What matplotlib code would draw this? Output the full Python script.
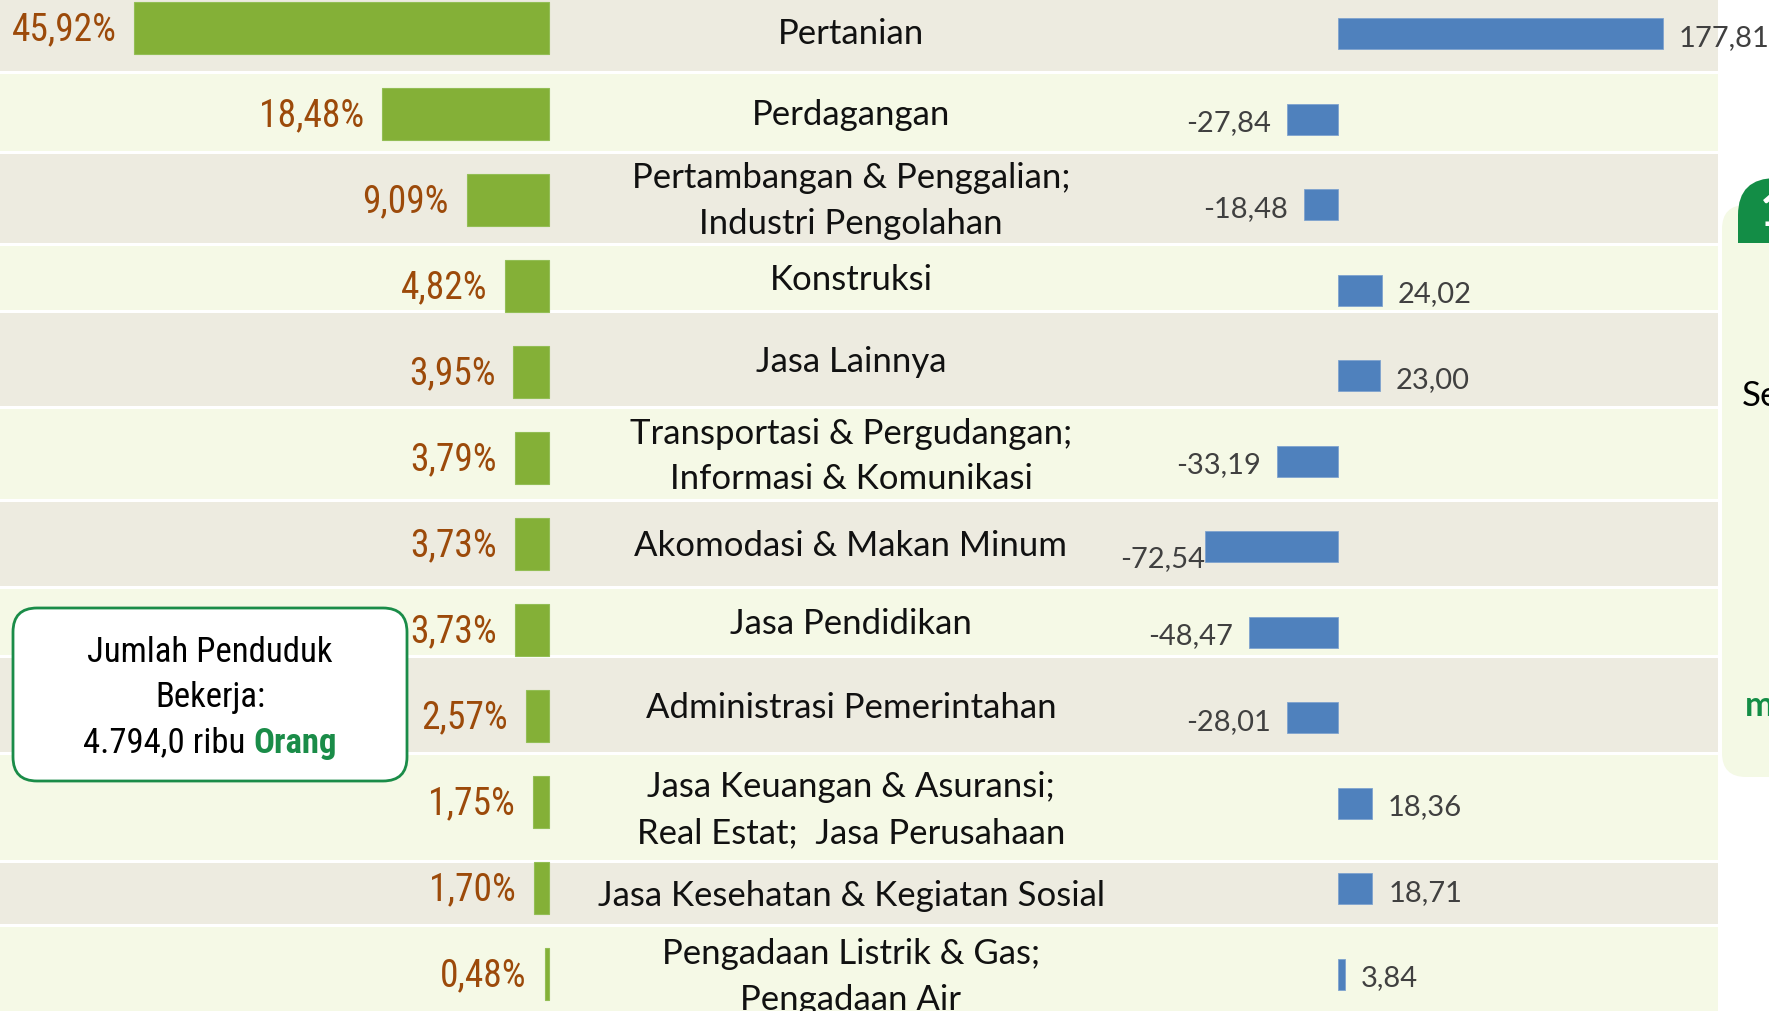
import matplotlib.pyplot as plt
from matplotlib import font_manager as fm
from matplotlib.patches import Rectangle, FancyBboxPatch, PathPatch
from matplotlib.path import Path

# Sektor lapangan usaha, persentase penduduk bekerja, dan perubahan (ribu orang)
sektor = [
    "Pertanian",
    "Perdagangan",
    "Pertambangan & Penggalian;\nIndustri Pengolahan",
    "Konstruksi",
    "Jasa Lainnya",
    "Transportasi & Pergudangan;\nInformasi & Komunikasi",
    "Akomodasi & Makan Minum",
    "Jasa Pendidikan",
    "Administrasi Pemerintahan",
    "Jasa Keuangan & Asuransi;\nReal Estat;  Jasa Perusahaan",
    "Jasa Kesehatan & Kegiatan Sosial",
    "Pengadaan Listrik & Gas;\nPengadaan Air",
]
persen = [45.92, 18.48, 9.09, 4.82, 3.95, 3.79, 3.73, 3.73, 2.57, 1.75, 1.70, 0.48]
perubahan = [177.81, -27.84, -18.48, 24.02, 23.00, -33.19, -72.54, -48.47,
             -28.01, 18.36, 18.71, 3.84]

W, H = 1769, 1011

# a narrow sans for the percentages, if one is installed
names = {f.name for f in fm.fontManager.ttflist}
narrow_kw = {"family": "Liberation Sans"}
for cand in ["Liberation Sans Narrow", "Arial Narrow", "Roboto Condensed",
             "Open Sans Condensed", "Noto Sans Condensed"]:
    if cand in names:
        narrow_kw = {"family": cand}
        break
else:
    for f in fm.fontManager.ttflist:
        if f.stretch in ("condensed", "semi-condensed") and f.style == "normal" \
                and f.weight in (400, "normal", "regular"):
            narrow_kw = {"family": f.name, "stretch": f.stretch}
            break
LABEL = "Lato"

HIJAU = "#84B037"
BIRU = "#4F81BD"
COKLAT = "#9C4A0A"
HIJAU_TUA = "#1A8C48"


def fmt(v, dec=2):
    return f"{v:.{dec}f}".replace(".", ",")


fig = plt.figure(figsize=(W / 100, H / 100), dpi=100)

# background table, pixel coordinates
bg = fig.add_axes([0, 0, 1, 1])
bg.set_xlim(0, W)
bg.set_ylim(H, 0)
bg.axis("off")

row_edges = [-9, 72, 152, 244, 311, 407, 500, 587, 656, 753, 861, 925, 1023]
for i in range(len(row_edges) - 1):
    top, bot = row_edges[i], row_edges[i + 1]
    col = "#EDEBE0" if i % 2 == 0 else "#F5F9E6"
    bg.add_patch(Rectangle((0, top + 1.5), 1718, bot - top - 3, fc=col, ec="none"))
    bg.text(851, (top + bot) / 2 + 3, sektor[i], ha="center", va="center",
            fontsize=25, family=LABEL, color="#111111", linespacing=1.53)

# green bars: share of employed population
axg = fig.add_axes([0, 0, 1, 1])
axg.patch.set_alpha(0)
px_per_pct = 9.03
axg.set_xlim(549 / px_per_pct, (549 - W) / px_per_pct)
axg.set_ylim((H - 28.2) / 85.95, -28.2 / 85.95)
axg.axis("off")
axg.barh(range(len(persen)), persen, height=0.605, color=HIJAU,
         edgecolor="#93BE55", linewidth=0.8)
for i, v in enumerate(persen):
    axg.annotate(fmt(v) + "%", xy=(v, i), xytext=(-18, -2), textcoords="offset pixels",
                 ha="right", va="center", fontsize=27, color=COKLAT, **narrow_kw)

# blue bars: change in employed population
axb = fig.add_axes([0, 0, 1, 1])
axb.patch.set_alpha(0)
px_per_unit = 1.828
axb.set_xlim(-1338 / px_per_unit, (W - 1338) / px_per_unit)
axb.set_ylim((H - 33.8) / 85.5, -33.8 / 85.5)
axb.axis("off")
axb.barh(range(len(perubahan)), perubahan, height=0.36, color=BIRU,
         edgecolor="#7FA3CF", linewidth=0.6)
nudge = {6: (0, -12)}
for i, v in enumerate(perubahan):
    dx, dy = nudge.get(i, (16, -4))
    if v < 0:
        dx = -dx
    axb.annotate(fmt(v), xy=(v, i), xytext=(dx, dy), textcoords="offset pixels",
                 ha="left" if v >= 0 else "right", va="center",
                 fontsize=21, family=LABEL, color="#404040")

# total employed box
bg.add_patch(FancyBboxPatch((13, 608), 394, 173,
                            boxstyle="round,pad=0,rounding_size=24",
                            fc="white", ec=HIJAU_TUA, lw=2, zorder=5))
box_kw = dict(ha="center", va="center", fontsize=25, color="black", zorder=6, **narrow_kw)
bg.text(210, 653, "Jumlah Penduduk", **box_kw)
bg.text(210, 698, "Bekerja:", **box_kw)
ta = bg.text(0, 743, "4.794,0 ribu", ha="left", va="center", fontsize=25,
             color="black", zorder=6, **narrow_kw)
tb = bg.text(0, 743, "Orang", ha="left", va="center", fontsize=25,
             color=HIJAU_TUA, fontweight="bold", zorder=6, **narrow_kw)
r = fig.canvas.get_renderer()
wa = ta.get_window_extent(r).width
wb = tb.get_window_extent(r).width
gap = 8
x0 = 210 - (wa + gap + wb) / 2
ta.set_x(x0)
tb.set_x(x0 + wa + gap)

# neighbouring panel at the right edge
bg.add_patch(FancyBboxPatch((1722, 205), 200, 572,
                            boxstyle="round,pad=0,rounding_size=24",
                            fc="#F4F9E5", ec="none"))
verts = [(1738, 243), (1738, 215), (1738, 178), (1776, 178), (1800, 178), (1800, 243), (1738, 243)]
codes = [Path.MOVETO, Path.LINETO, Path.CURVE3, Path.CURVE3, Path.LINETO, Path.LINETO, Path.CLOSEPOLY]
bg.add_patch(PathPatch(Path(verts, codes), fc="#138D46", ec="none"))
bg.text(1760, 190, "1", ha="left", va="top", fontsize=34, family=LABEL,
        fontweight="bold", color="white")
bg.text(1742, 396, "Se", ha="left", va="center", fontsize=25, family=LABEL, color="black")
bg.text(1745, 706, "m", ha="left", va="center", fontsize=25, family=LABEL,
        fontweight="bold", color="#138D46")

fig.savefig("out.png", dpi=100)
